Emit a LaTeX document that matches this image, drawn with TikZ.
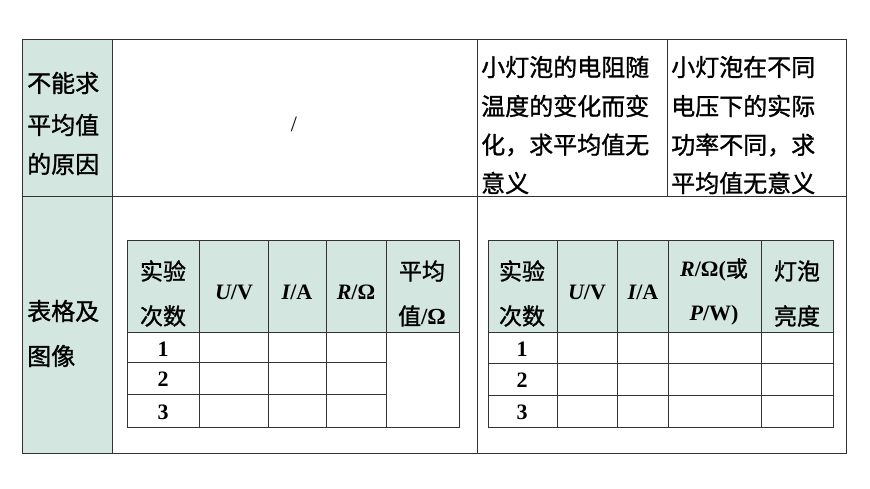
\documentclass[tikz,border=0pt]{standalone}
\usepackage{fontspec}
\setmainfont{Liberation Serif}
\newfontfamily\cjk[FakeBold=1.2]{Noto Sans CJK SC}
\definecolor{gfill}{HTML}{D3E7E0}
\begin{document}
\begin{tikzpicture}[x=1pt,y=-1pt,
  ln/.style={draw=black!80,line width=1pt},
  tl/.style={ln,line width=0.9pt},
  cj/.style={font=\cjk\fontsize{24}{24}\selectfont,inner sep=0,anchor=west},
  hd/.style={font=\fontsize{22}{22}\selectfont\bfseries,inner sep=0},
  cc/.style={font=\cjk\fontsize{23}{23}\selectfont,inner sep=0}]
\useasboundingbox (0,0) rectangle (870,489);
% outer
\fill[gfill] (22,40) rectangle (112,453);
\draw[ln] (22,40) rectangle (846,453);
\draw[ln] (112,40) -- (112,453);
\draw[ln] (22,197) -- (846,197);
\draw[ln] (477,40) -- (477,453);
\draw[ln] (667,40) -- (667,197);
% row 1 text
\node[cj] (a1) at (27,83) {不能求};
\node[cj] (a2) at (27,125) {平均值};
\node[cj] (a3) at (27,164) {的原因};
\node[inner sep=0,font=\fontsize{22}{22}\selectfont] (sl) at (294,124) {/};
\node[cj] (b1) at (481,67) {小灯泡的电阻随};
\node[cj] (b2) at (481,106) {温度的变化而变};
\node[cj] (b3) at (481,145) {化，求平均值无};
\node[cj] (b4) at (481,183) {意义};
\node[cj] (c1) at (671,67) {小灯泡在不同};
\node[cj] (c2) at (671,106) {电压下的实际};
\node[cj] (c3) at (671,145) {功率不同，求};
\node[cj] (c4) at (671,183) {平均值无意义};
\node[cj] (d1) at (27,311) {表格及};
\node[cj] (d2) at (27,356) {图像};
% left inner table
\fill[gfill] (127,240) rectangle (459,332);
\draw[tl] (127,240) rectangle (459,427);
\foreach \x in {199,268,326,386} \draw[tl] (\x,240) -- (\x,427);
\draw[tl] (127,332) -- (459,332);
\foreach \y in {362,394} \draw[tl] (127,\y) -- (386,\y);
\node[cc] (l1) at (163,271) {实验};
\node[cc] (l2) at (163,316) {次数};
\node[hd] (l3) at (234,292) {\itshape U\upshape/V};
\node[hd] (l4) at (297,292) {\itshape I\upshape/A};
\node[hd] (l5) at (356,292) {\itshape R\upshape/Ω};
\node[cc] (l6) at (422,271) {平均};
\node[cc] (l7) at (422,316) {值\bfseries\rmfamily/Ω};
\node[hd] (n1) at (163,349) {1};
\node[hd] (n2) at (163,379) {2};
\node[hd] (n3) at (163,412) {3};
% right inner table
\fill[gfill] (488,240) rectangle (833,332);
\draw[tl] (488,240) rectangle (833,427);
\foreach \x in {557,617,668,761} \draw[tl] (\x,240) -- (\x,427);
\foreach \y in {332,363,395} \draw[tl] (488,\y) -- (833,\y);
\node[cc] (r1) at (522,271) {实验};
\node[cc] (r2) at (522,316) {次数};
\node[hd] (r3) at (587,292) {\itshape U\upshape/V};
\node[hd] (r4) at (643,292) {\itshape I\upshape/A};
\node[hd] (r5) at (714,270) {\itshape R\upshape/Ω(\cjk\mdseries 或\bfseries\rmfamily};
\node[hd] (r6) at (714,315) {\itshape P\upshape/W)};
\node[cc] (r7) at (797,271) {灯泡};
\node[cc] (r8) at (797,316) {亮度};
\node[hd] (m1) at (522,349) {1};
\node[hd] (m2) at (522,380) {2};
\node[hd] (m3) at (522,412) {3};
\end{tikzpicture}
\end{document}
